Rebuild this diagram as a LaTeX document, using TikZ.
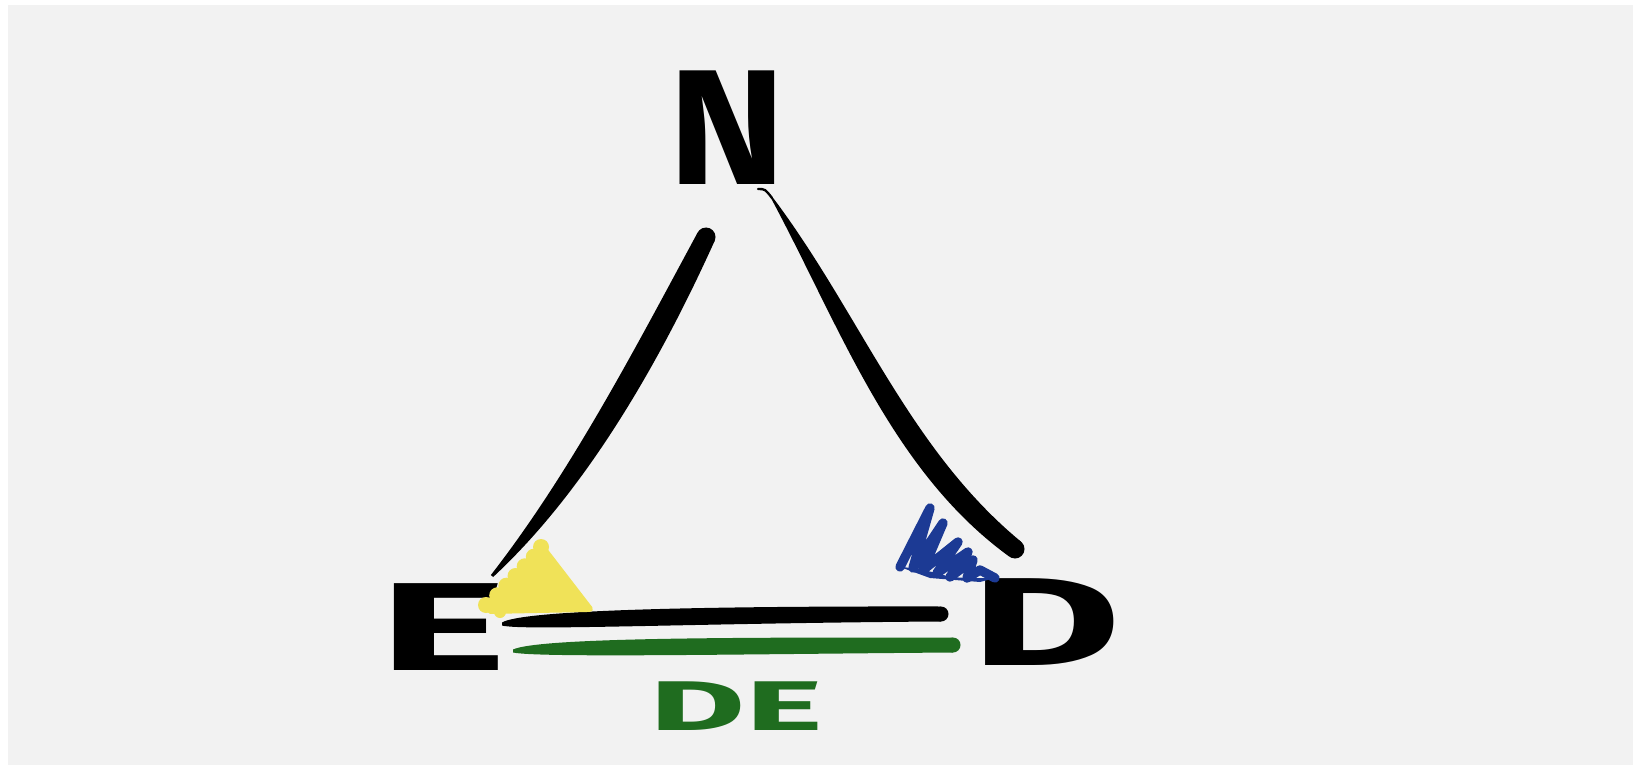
\documentclass[tikz,border=0pt]{standalone}
\usepackage{fontspec}
\setmainfont{Fira Sans}
\definecolor{bg}{RGB}{242,242,242}
\definecolor{ink}{RGB}{0,0,0}
\definecolor{dgreen}{RGB}{31,108,31}
\definecolor{ylw}{RGB}{240,226,88}
\definecolor{blu}{RGB}{28,58,148}
\begin{document}
\begin{tikzpicture}[x=0.03cm,y=-0.03cm,
  stroke/.style={line cap=round,line join=round},
  letter/.style={inner sep=0pt,outer sep=0pt},
  bigletter/.style={letter,font=\fontsize{140}{140}\selectfont\bfseries},
  midletter/.style={letter,font=\fontsize{107}{107}\selectfont\bfseries},
  smallletter/.style={letter,font=\fontsize{60}{60}\selectfont\bfseries}]
\useasboundingbox (0,0) rectangle (1633,765);
\fill[white] (0,0) rectangle (1633,765);
\fill[bg] (8,5) rectangle (1633,765);

% letters
\node[bigletter,text=ink] (N) at (727,128) {\scalebox{1.08}[1]{N}};
\node[midletter,text=ink] (E) at (443,627) {\scalebox{1.95}[1]{E}};
\node[midletter,text=ink] (D) at (1046,622) {\scalebox{1.85}[1]{D}};
\node[smallletter,text=dgreen] (DE) at (736,706) {\scalebox{2.1}[1]{DE}};

% left side (thick at top, thin at bottom)
\fill[ink] (714.5,241.2) .. controls (662.5,356.2) and (588.8,488.1) .. (493.1,577.0)
  -- (490.9,575.0) .. controls (571.2,471.9) and (637.5,343.8) .. (697.5,232.8) -- cycle;
\fill[ink] (706,237) circle (9.5);

% right side (thin hook at top, thick at bottom)
\draw[ink,line width=2pt,stroke] (758,189) .. controls (765,189) .. (772,198);
\fill[ink] (772.8,197.5) .. controls (860.1,313.5) and (908.6,448.9) .. (1020.8,541.5)
  -- (1009.2,556.5) .. controls (891.4,471.1) and (839.9,326.5) .. (771.2,198.5) -- cycle;
\fill[ink] (1015,549) circle (9.5);

% bottom black side
\fill[ink] (502,622.5) .. controls (522,610) and (700,606) .. (941,606.5)
  -- (941,621.5) .. controls (700,623) and (522,631) .. (502,625.5) -- cycle;
\fill[ink] (941,614) circle (7.5);

% green underline
\fill[dgreen] (513,649.5) .. controls (540,637) and (750,637.5) .. (953,637.5)
  -- (953,652.5) .. controls (750,654) and (540,658) .. (513,652.5) -- cycle;
\fill[dgreen] (953,645) circle (7.5);

% yellow scribble at E
\filldraw[ylw,line width=5pt,stroke] (543,548) -- (590,609) -- (490,611) -- (488,606) -- cycle;
\foreach \p in {(486,605),(497.2,595.3),(506.3,585.7),(515.5,576),(524.7,566.3),(533.8,556.7),(541,547)}
  \fill[ylw] \p circle (8);
\fill[ylw] (500,612) circle (6);

% blue scribble at D
\draw[blu,line width=8pt,stroke] (900,567) -- (930,508) -- (913,568) -- (943,523)
  -- (923,570) -- (958,542) -- (937,573) -- (968,552) -- (950,577) -- (973,560)
  -- (967,578) -- (980,570) -- (995,578);
\fill[blu] (900,567) -- (913,568) -- (923,570) -- (937,573) -- (950,577) -- (967,578)
  -- (995,578) -- (980,582) -- (930,578) -- cycle;
\end{tikzpicture}
\end{document}
